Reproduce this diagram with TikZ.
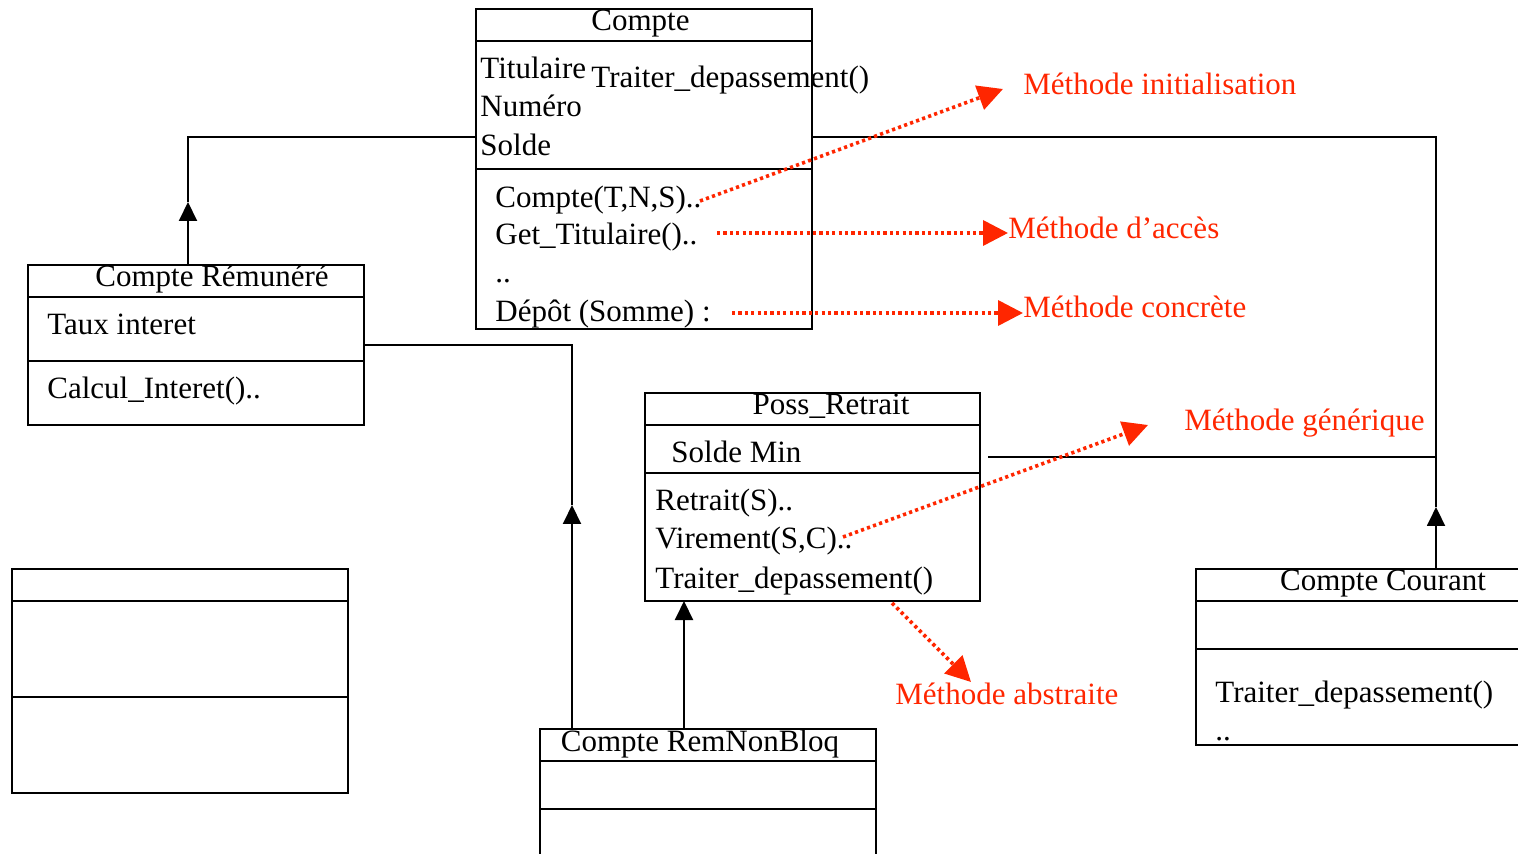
\documentclass[tikz,border=0pt]{standalone}
\usepackage{fontspec}
\setmainfont{Liberation Serif}
\usetikzlibrary{arrows.meta,calc}
\definecolor{annot}{RGB}{255,38,0}
\begin{document}
\begin{tikzpicture}[x=0.5pt,y=-0.5pt,
  umlbox/.style={draw, line width=1pt, inner sep=0pt, outer sep=0pt, anchor=north west},
  divline/.style={line width=1pt},
  txt/.style={anchor=base west, inner sep=0pt, font=\fontsize{15.5}{18}\selectfont},
  ttl/.style={anchor=base, inner sep=0pt, font=\fontsize{15.5}{18}\selectfont},
  rtxt/.style={txt, text=annot},
  conn/.style={line width=1pt},
  gen/.style={line width=1pt, -{Triangle[length=9.5pt,width=9pt]}},
  note/.style={annot, line width=1.8pt, dash pattern=on 1.6pt off 1.6pt, -{Triangle[length=12.5pt,width=12.5pt]}}
]
\useasboundingbox (0,0) rectangle (1518,854);

% ---- boxes
\node[umlbox, minimum width=168pt, minimum height=160pt] (compte) at (476,9) {};
\node[umlbox, minimum width=168pt, minimum height=80pt] (cr) at (28,265) {};
\node[umlbox, minimum width=167.5pt, minimum height=104pt] (poss) at (645,393) {};
\node[umlbox, minimum width=168pt, minimum height=75.5pt] (rnb) at (540,729) {};
\node[umlbox, minimum width=167pt, minimum height=88pt] (cc) at (1196,569) {};
\node[umlbox, minimum width=168pt, minimum height=112pt] (empty) at (12,569) {};

% ---- dividers
\draw[divline] (476,41) -- (812,41);
\draw[divline] (476,169) -- (812,169);
\draw[divline] (28,297) -- (364,297);
\draw[divline] (28,361) -- (364,361);
\draw[divline] (645,425) -- (980,425);
\draw[divline] (645,473) -- (980,473);
\draw[divline] (540,761) -- (876,761);
\draw[divline] (540,809) -- (876,809);
\draw[divline] (1196,601) -- (1530,601);
\draw[divline] (1196,649) -- (1530,649);
\draw[divline] (12,601) -- (348,601);
\draw[divline] (12,697) -- (348,697);

% ---- Compte
\node[ttl] (tcompte) at (640.5,31) {Compte};
\node[txt] (a1) at (480,79) {Titulaire};
\node[txt] (a1b) at (591,88) {Traiter\_depassement()};
\node[txt] (a2) at (480,117) {Numéro};
\node[txt] (a3) at (480,156) {Solde};
\node[txt] (m1) at (495,208) {Compte(T,N,S)..};
\node[txt] (m2) at (495,245) {Get\_Titulaire()..};
\node[txt] (m3) at (495,283) {..};
\node[txt] (m4) at (495,322) {Dépôt (Somme) :};

% ---- Compte Rémunéré
\node[ttl] (tcr) at (212,287) {Compte Rémunéré};
\node[txt] (cra) at (47,335) {Taux interet};
\node[txt] (crm) at (47,399) {Calcul\_Interet()..};

% ---- Poss_Retrait
\node[ttl] (tposs) at (831,415) {Poss\_Retrait};
\node[txt] (pa) at (671,463) {Solde Min};
\node[txt] (pm1) at (655,510) {Retrait(S)..};
\node[txt] (pm2) at (655,548) {Virement(S,C)..};
\node[txt] (pm3) at (655,588) {Traiter\_depassement()};

% ---- Compte RemNonBloq
\node[ttl] (trnb) at (700,751) {Compte RemNonBloq};

% ---- Compte Courant
\node[ttl] (tcc) at (1383,590) {Compte Courant};
\node[txt] (ccm1) at (1215,702) {Traiter\_depassement()};
\node[txt] (ccm2) at (1215,740) {..};

% ---- generalisation connectors
\coordinate (j1) at (188,137);
\coordinate (h1) at (188,202);
\draw[gen] (cr.north -| j1) -- (h1);
\draw[conn] (h1) -- (j1) -- (compte.west |- j1);

\coordinate (j2) at (1436,137);
\coordinate (h2) at (1436,507);
\draw[gen] (cc.north -| j2) -- (h2);
\draw[conn] (h2) -- (j2) -- (compte.east |- j2);
\coordinate (j3) at (1436,457);
\coordinate (p3) at (988,457);
\draw[conn] (p3) -- (j3);

\coordinate (j4) at (572,345);
\coordinate (h4) at (572,505);
\draw[gen] (rnb.north -| j4) -- (h4);
\draw[conn] (h4) -- (j4) -- (cr.east |- j4);

\coordinate (j5) at (684,729);
\draw[gen] (j5) -- (poss.south -| j5);

% ---- annotations
\node[rtxt] (n1) at (1023,95) {Méthode initialisation};
\node[rtxt] (n2) at (1008,239) {Méthode d’accès};
\node[rtxt] (n3) at (1023,318) {Méthode concrète};
\node[rtxt] (n4) at (1184,431) {Méthode générique};
\node[rtxt] (n5) at (895,704) {Méthode abstraite};

\coordinate (s1) at (700,201);
\coordinate (e1) at (1003,89);
\draw[note] (s1) -- (e1);
\coordinate (s2) at (717,233);
\draw[note] (s2) -- (n2.west |- s2);
\coordinate (s3) at (732,313);
\draw[note] (s3) -- (n3.west |- s3);
\coordinate (s4) at (843,537);
\coordinate (e4) at (1148,425);
\draw[note] (s4) -- (e4);
\coordinate (s5) at (892,603);
\coordinate (e5) at (971,682);
\draw[note] (s5) -- (e5);
\end{tikzpicture}
\end{document}
